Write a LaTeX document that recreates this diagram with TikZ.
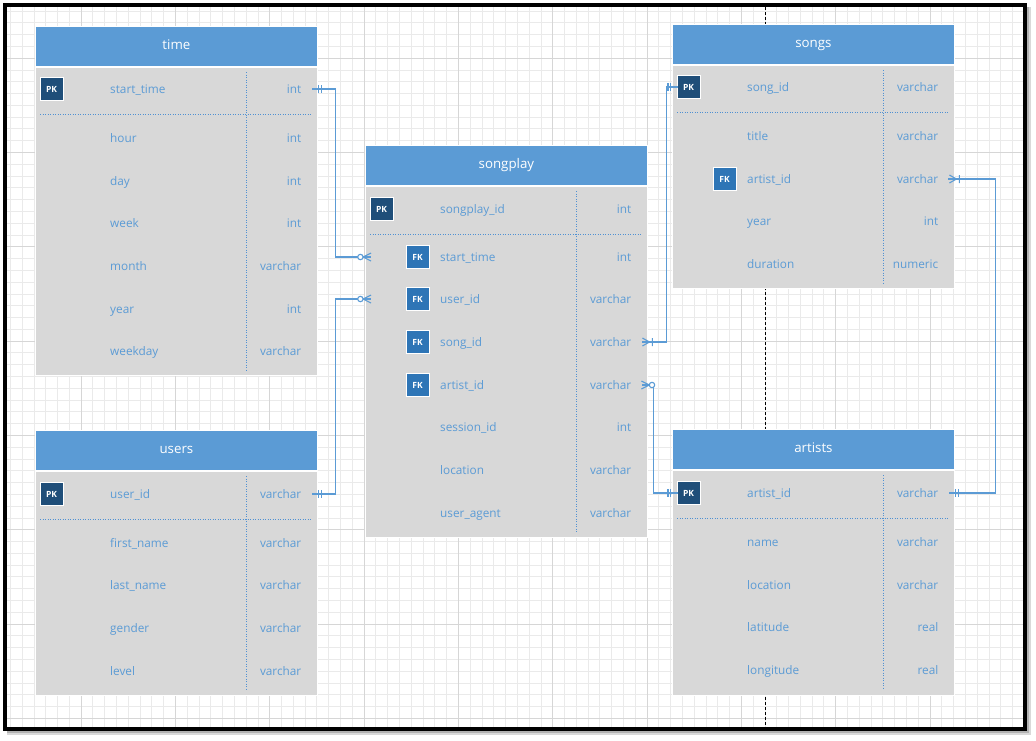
\documentclass[tikz,border=0pt]{standalone}
\usepackage{fontspec}
\setmainfont{Open Sans}
\usetikzlibrary{calc}
\definecolor{hdrblue}{RGB}{91,155,213}
\definecolor{bodygray}{RGB}{216,216,216}
\definecolor{txtblue}{RGB}{91,155,213}
\definecolor{pkblue}{RGB}{31,78,121}
\definecolor{fkblue}{RGB}{46,117,182}
\definecolor{lineblue}{RGB}{91,155,213}
\definecolor{sepblue}{RGB}{80,145,210}
\definecolor{gridminor}{RGB}{234,234,234}
\definecolor{gridmajor}{RGB}{214,214,214}
\newcommand\myrowfont{\fontsize{11.8}{14}\selectfont}
\newcommand\myhdrfont{\fontsize{13.3}{15}\selectfont}
\newcommand\mykeyfont{\fontsize{8.5}{10}\selectfont\bfseries}
\tikzset{
  hdr/.style={fill=hdrblue, draw=white, line width=0.8pt, text=white, font=\myhdrfont,
    minimum width=282pt, minimum height=40pt, anchor=north west, inner sep=0pt,
    text height=10pt, text depth=3pt},
  bdy/.style={fill=bodygray, draw=white, line width=0.8pt, minimum width=282pt,
    anchor=north west, inner sep=0pt},
  rowbox/.style={minimum width=282pt, minimum height=20pt, anchor=west, inner sep=0pt},
  fname/.style={anchor=west, text=txtblue, font=\myrowfont, inner sep=0pt,
    text height=10.5pt, text depth=1.5pt},
  ftype/.style={anchor=east, text=txtblue, font=\myrowfont, inner sep=0pt,
    text height=10.5pt, text depth=1.5pt},
  pkbox/.style={fill=pkblue, draw=white, line width=0.8pt, minimum size=23pt,
    inner sep=0pt, text=white, font=\mykeyfont},
  fkbox/.style={pkbox, fill=fkblue},
  sepline/.style={draw=sepblue, line width=0.8pt, dash pattern=on 1pt off 1.5pt},
  conn/.style={draw=lineblue, line width=1.1pt},
  pics/one/.style={code={\draw[conn] (1.5,-4) -- (1.5,4) (4,-4) -- (4,4);}},
  pics/zmany/.style={code={\draw[conn] (-6,-4) -- (2,0) -- (-6,4);
      \draw[conn, fill=white] (4.6,0) circle (2.7);}},
  pics/omany/.style={code={\draw[conn] (-5,-4) -- (2,0) -- (-5,4) (5,-4) -- (5,4);}},
}
% #1 name, #2 left x, #3 header top, #4 body bottom, #5 title, #6 first row y
\newcommand\ertab[6]{%
  \node[hdr] (#1) at (#2,#3) {#5};
  \node[bdy, minimum height={#4-#3-41}] (#1-body) at (#2,#3+41) {};
  \draw[sepline] (#2+211,#3+46) -- (#2+211,#4-5);
  \draw[sepline] (#2+5,#6+25) -- (#2+277,#6+25);
}
% #1 node name, #2 left x, #3 y, #4 field, #5 type
\newcommand\erow[5]{%
  \node[rowbox] (#1) at (#2,#3) {};
  \node[fname] (#1-n) at (#2+75,#3) {#4};
  \node[ftype] (#1-t) at (#2+266.5,#3) {#5};
}
\begin{document}
\begin{tikzpicture}[x=1pt,y=-1pt]
\useasboundingbox (0,0) rectangle (1036,740);
\fill[white] (0,0) rectangle (1036,740);
% shadow
\draw[black!15, line width=4pt] (9,9) rectangle (1029,733);
\draw[black!30, line width=2pt] (7.5,7.5) rectangle (1027.5,731.5);
% grid
\begin{scope}
  \clip (7,7) rectangle (1023,727);
  \fill[white] (7,7) rectangle (1023,727);
  \foreach \i in {0,...,88} \draw[gridminor, line width=0.7pt] (10.3+\i*11.79,0) -- (10.3+\i*11.79,740);
  \foreach \i in {0,...,63} \draw[gridminor, line width=0.7pt] (0,10.9+\i*11.79) -- (1036,10.9+\i*11.79);
  \foreach \i in {0,...,11} \draw[gridmajor, line width=0.8pt] (-13.3+\i*94.32,0) -- (-13.3+\i*94.32,740);
  \foreach \i in {0,...,8} \draw[gridmajor, line width=0.8pt] (0,-36.26+\i*94.32) -- (1036,-36.26+\i*94.32);
\end{scope}
% page break line
\draw[black, line width=0.9pt, dash pattern=on 3pt off 2pt] (765,7) -- (765,727);
% frame
\draw[black, line width=4pt] (5,5) rectangle (1025,729);

% ---- time
\ertab{time}{35}{26}{375}{time}{89}
\erow{time-start}{35}{89}{start\_time}{int}
\erow{time-hour}{35}{138}{hour}{int}
\erow{time-day}{35}{181}{day}{int}
\erow{time-week}{35}{223}{week}{int}
\erow{time-month}{35}{266}{month}{varchar}
\erow{time-year}{35}{309}{year}{int}
\erow{time-weekday}{35}{351}{weekday}{varchar}
\node[pkbox] (time-pk) at (51.5,89) {PK};

% ---- users
\ertab{users}{35}{430}{695}{users}{494}
\erow{users-uid}{35}{494}{user\_id}{varchar}
\erow{users-first}{35}{543}{first\_name}{varchar}
\erow{users-last}{35}{585}{last\_name}{varchar}
\erow{users-gender}{35}{628}{gender}{varchar}
\erow{users-level}{35}{671}{level}{varchar}
\node[pkbox] (users-pk) at (51.5,494) {PK};

% ---- songplay
\ertab{sp}{365}{145}{537}{songplay}{209}
\erow{sp-id}{365}{209}{songplay\_id}{int}
\erow{sp-start}{365}{257}{start\_time}{int}
\erow{sp-uid}{365}{299}{user\_id}{varchar}
\erow{sp-song}{365}{342}{song\_id}{varchar}
\erow{sp-artist}{365}{385}{artist\_id}{varchar}
\erow{sp-session}{365}{427}{session\_id}{int}
\erow{sp-loc}{365}{470}{location}{varchar}
\erow{sp-agent}{365}{513}{user\_agent}{varchar}
\node[pkbox] (sp-pk) at (381.5,209) {PK};
\node[fkbox] (sp-fk1) at (417.5,257) {FK};
\node[fkbox] (sp-fk2) at (417.5,299) {FK};
\node[fkbox] (sp-fk3) at (417.5,342) {FK};
\node[fkbox] (sp-fk4) at (417.5,385) {FK};

% ---- songs
\ertab{songs}{672}{24}{288}{songs}{87}
\erow{songs-sid}{672}{87}{song\_id}{varchar}
\erow{songs-title}{672}{136}{title}{varchar}
\erow{songs-aid}{672}{179}{artist\_id}{varchar}
\erow{songs-year}{672}{221}{year}{int}
\erow{songs-dur}{672}{264}{duration}{numeric}
\node[pkbox] (songs-pk) at (688.5,87) {PK};
\node[fkbox] (songs-fk) at (724.5,179) {FK};

% ---- artists
\ertab{artists}{672}{429}{695}{artists}{493}
\erow{artists-aid}{672}{493}{artist\_id}{varchar}
\erow{artists-name}{672}{542}{name}{varchar}
\erow{artists-loc}{672}{585}{location}{varchar}
\erow{artists-lat}{672}{627}{latitude}{real}
\erow{artists-lon}{672}{670}{longitude}{real}
\node[pkbox] (artists-pk) at (688.5,493) {PK};

% ---- connectors
\draw[conn] ([xshift=-5pt]time-start.east) -- ([xshift=18pt]time-start.east) |- ([xshift=6pt]sp-start.west);
\draw[conn] ([xshift=-5pt]users-uid.east) -- ([xshift=18pt]users-uid.east) |- ([xshift=6pt]sp-uid.west);
\draw[conn] ([xshift=-5pt]sp-song.east) -- ([xshift=19pt]sp-song.east) |- ([xshift=6pt]songs-sid.west);
\draw[conn] ([xshift=-5pt]sp-artist.east) -- ([xshift=6pt]sp-artist.east) |- ([xshift=6pt]artists-aid.west);
\draw[conn] ([xshift=-6pt]songs-aid.east) -- ([xshift=41pt]songs-aid.east) |- ([xshift=-5pt]artists-aid.east);

\pic at (time-start.east) {one};
\pic[xscale=-1] at (sp-start.west) {zmany};
\pic at (users-uid.east) {one};
\pic[xscale=-1] at (sp-uid.west) {zmany};
\pic at (sp-song.east) {omany};
\pic[xscale=-1] at (songs-sid.west) {one};
\pic at (sp-artist.east) {zmany};
\pic[xscale=-1] at (artists-aid.west) {one};
\pic at (songs-aid.east) {omany};
\pic at (artists-aid.east) {one};
\end{tikzpicture}
\end{document}
